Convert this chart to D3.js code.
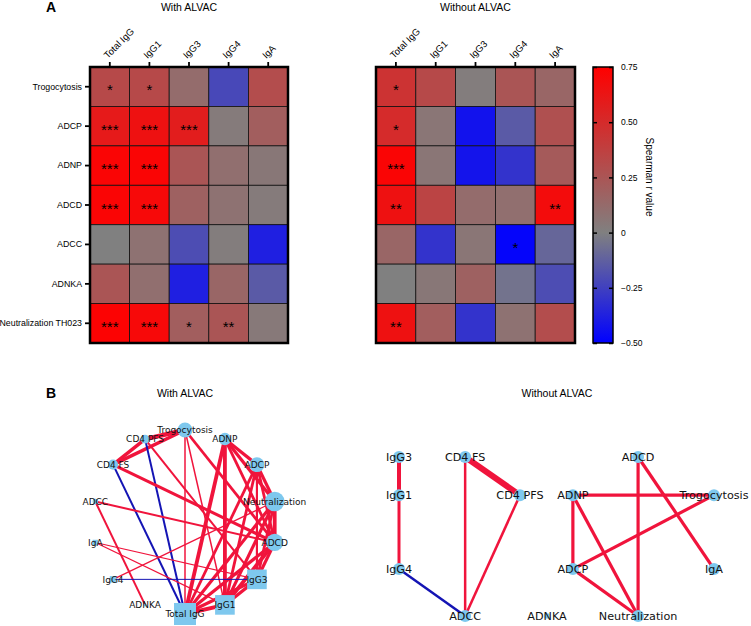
<!DOCTYPE html>
<html>
<head>
<meta charset="utf-8">
<script src="https://cdn.jsdelivr.net/npm/d3@7"></script>
<style>
  body { margin: 0; background: #fff; }
  svg { display: block; }
</style>
</head>
<body>
<div id="chart"></div>
<script>
// ---- heatmap data (panel A) ----
const antibodies = ["Total IgG", "IgG1", "IgG3", "IgG4", "IgA"];
const functions = ["Trogocytosis", "ADCP", "ADNP", "ADCD", "ADCC", "ADNKA", "Neutralization TH023"];

// Spearman r, rows = functions, cols = antibodies
const rWith = [
  [0.32, 0.32, 0.12, -0.22, 0.30],
  [0.60, 0.65, 0.58, 0.03, 0.20],
  [0.72, 0.72, 0.25, 0.10, 0.05],
  [0.72, 0.70, 0.18, 0.08, 0.03],
  [0.00, 0.08, -0.20, 0.02, -0.38],
  [0.25, 0.10, -0.38, 0.15, -0.15],
  [0.73, 0.70, 0.20, 0.25, 0.04]
];
const starsWith = [
  ["*", "*", "", "", ""],
  ["***", "***", "***", "", ""],
  ["***", "***", "", "", ""],
  ["***", "***", "", "", ""],
  ["", "", "", "", ""],
  ["", "", "", "", ""],
  ["***", "***", "*", "**", ""]
];
const rWithout = [
  [0.45, 0.32, 0.02, 0.25, 0.15],
  [0.50, 0.06, -0.43, -0.15, 0.28],
  [0.72, 0.06, -0.42, -0.30, 0.22],
  [0.65, 0.35, 0.12, 0.10, 0.68],
  [0.15, -0.30, 0.06, -0.48, -0.10],
  [0.00, 0.05, 0.18, -0.05, -0.20],
  [0.65, 0.20, -0.30, 0.08, 0.30]
];
const starsWithout = [
  ["*", "", "", "", ""],
  ["*", "", "", "", ""],
  ["***", "", "", "", ""],
  ["**", "", "", "", "**"],
  ["", "", "", "*", ""],
  ["", "", "", "", ""],
  ["**", "", "", "", ""]
];
const colorTicks = [0.75, 0.5, 0.25, 0, -0.25, -0.5];

// ---- network data (panel B) ----
const abNodes = ["Total IgG", "IgG1", "IgG3", "IgG4", "IgA"];
const ringOrder = ["Trogocytosis", "ADNP", "ADCP", "Neutralization", "ADCD", "IgG3", "IgG1",
  "Total IgG", "ADNKA", "IgG4", "IgA", "ADCC", "CD4 FS", "CD4 PFS"];
const ringDegree = [6, 5, 6, 8, 7, 8, 8, 9, 1, 2.5, 2, 2, 4, 3.5];
// [source, target, r]
const edgesWith = [
  ["Trogocytosis", "CD4 PFS", 0.85], ["Trogocytosis", "CD4 FS", 0.75], ["CD4 FS", "CD4 PFS", 0.75],
  ["CD4 PFS", "Total IgG", -0.6], ["CD4 FS", "Total IgG", -0.6],
  ["CD4 FS", "ADCD", 0.7], ["CD4 PFS", "IgG3", 0.6],
  ["Trogocytosis", "Total IgG", 0.55], ["Trogocytosis", "IgG1", 0.55], ["Trogocytosis", "ADCD", 0.68],
  ["ADNP", "ADCP", 0.72], ["ADNP", "Neutralization", 0.72], ["ADNP", "ADCD", 0.68],
  ["ADNP", "Total IgG", 0.78], ["ADNP", "IgG1", 0.78],
  ["ADCP", "Neutralization", 0.72], ["ADCP", "ADCD", 0.68], ["ADCP", "IgG3", 0.62],
  ["ADCP", "IgG1", 0.68], ["ADCP", "Total IgG", 0.68],
  ["Neutralization", "ADCD", 0.78], ["Neutralization", "IgG3", 0.68], ["Neutralization", "IgG1", 0.72],
  ["Neutralization", "Total IgG", 0.72], ["Neutralization", "IgG4", 0.52],
  ["ADCD", "IgG3", 0.72], ["ADCD", "IgG1", 0.78], ["ADCD", "Total IgG", 0.72], ["ADCD", "ADCC", 0.6],
  ["IgG3", "IgG1", 0.72], ["IgG1", "Total IgG", 0.8], ["IgG3", "Total IgG", 0.72],
  ["ADCC", "ADNKA", 0.6], ["IgA", "IgG3", 0.52], ["IgA", "IgG1", 0.52], ["IgG4", "IgG3", -0.5]
];

// manual layout of the second network, in grid units
const gridNames = ["IgG3", "IgG1", "IgG4", "CD4 FS", "CD4 PFS", "ADCC", "ADNKA",
  "ADNP", "ADCP", "ADCD", "Neutralization", "Trogocytosis", "IgA"];
const gridX = [0, 0, 0, 2.1, 3.84, 2.1, 4.7, 5.52, 5.52, 7.59, 7.59, 10, 10];
const gridY = [0, 2.4, 7.05, 0, 2.4, 10, 10, 2.4, 7.05, 0, 10, 2.4, 7.05];
const edgesWithout = [
  ["IgG3", "IgG1", 0.8], ["IgG1", "IgG4", 0.7], ["IgG4", "ADCC", -0.65],
  ["CD4 FS", "CD4 PFS", 1.0], ["CD4 FS", "ADCC", 0.65], ["CD4 PFS", "ADCC", 0.65],
  ["ADCD", "Neutralization", 0.72], ["ADCD", "IgA", 0.72],
  ["ADNP", "Trogocytosis", 0.72], ["ADNP", "ADCP", 0.72], ["ADNP", "Neutralization", 0.72],
  ["ADCP", "Trogocytosis", 0.72], ["ADCP", "Neutralization", 0.72]
];

const W = 751, H = 626;
const svg = d3.select("#chart").append("svg")
  .attr("width", W).attr("height", H)
  .style("font-family", "'Liberation Sans', Arial, sans-serif");

const color = d3.scaleLinear()
  .domain([-0.5, 0, 0.75])
  .range(["#0000ff", "#808080", "#ff0000"]);

// panel letters
svg.append("text").attr("x", 46).attr("y", 12).attr("font-size", 14).attr("font-weight", "bold").text("A");
svg.append("text").attr("x", 46).attr("y", 398).attr("font-size", 14).attr("font-weight", "bold").text("B");

const yRow = d3.scaleBand().domain(functions).range([67, 343]);

function heatmap(x0, x1, title, values, stars, rowLabels) {
  const xCol = d3.scaleBand().domain(antibodies).range([x0, x1]);
  const g = svg.append("g");

  g.append("text")
    .attr("x", (x0 + x1) / 2).attr("y", 11)
    .attr("text-anchor", "middle").attr("font-size", 10.5)
    .text(title);

  const cells = [];
  functions.forEach((f, i) => antibodies.forEach((a, j) => {
    cells.push({ f, a, v: values[i][j], s: stars[i][j] });
  }));

  g.selectAll("rect.cell").data(cells).enter().append("rect")
    .attr("class", "cell")
    .attr("x", d => xCol(d.a)).attr("y", d => yRow(d.f))
    .attr("width", xCol.bandwidth()).attr("height", yRow.bandwidth())
    .attr("fill", d => color(d.v))
    .attr("stroke", "#111").attr("stroke-width", 0.8);

  g.selectAll("text.star").data(cells.filter(d => d.s)).enter().append("text")
    .attr("class", "star")
    .attr("x", d => xCol(d.a) + xCol.bandwidth() / 2)
    .attr("y", d => yRow(d.f) + yRow.bandwidth() / 2 + 8.5)
    .attr("text-anchor", "middle").attr("font-size", 15)
    .text(d => d.s);

  g.append("rect")
    .attr("x", x0).attr("y", 67).attr("width", x1 - x0).attr("height", 276)
    .attr("fill", "none").attr("stroke", "#000").attr("stroke-width", 2.5);

  // column ticks + rotated labels
  const top = g.append("g").attr("transform", "translate(0,66)")
    .call(d3.axisTop(xCol).tickSize(4).tickSizeOuter(0).tickFormat(""));
  top.select(".domain").remove();
  top.selectAll(".tick line").attr("stroke-width", 1.8);

  g.selectAll("text.col").data(antibodies).enter().append("text")
    .attr("class", "col")
    .attr("transform", d => `translate(${xCol(d) + xCol.bandwidth() / 2 - 2},59) rotate(-45)`)
    .attr("font-size", 9.5)
    .text(d => d);

  if (rowLabels) {
    const left = g.append("g").attr("transform", `translate(${x0 - 1},0)`)
      .call(d3.axisLeft(yRow).tickSize(4).tickSizeOuter(0).tickPadding(3));
    left.select(".domain").remove();
    left.selectAll(".tick line").attr("stroke-width", 1.8);
    left.selectAll(".tick text").attr("font-size", 8.8)
      .attr("font-family", "'Liberation Sans', Arial, sans-serif").attr("fill", "#000");
  }
}

heatmap(90, 288, "With ALVAC", rWith, starsWith, true);
heatmap(376, 575, "Without ALVAC", rWithout, starsWithout, false);

// ---- colour bar ----
const cbX = 593, cbW = 20;
const yCb = d3.scaleLinear().domain([-0.5, 0.75]).range([343, 67]);
const grad = svg.append("defs").append("linearGradient")
  .attr("id", "cb").attr("x1", 0).attr("y1", 1).attr("x2", 0).attr("y2", 0);
grad.selectAll("stop").data(color.domain()).enter().append("stop")
  .attr("offset", d => (d - (-0.5)) / 1.25)
  .attr("stop-color", d => color(d));
svg.append("rect").attr("x", cbX).attr("y", 67).attr("width", cbW).attr("height", 276)
  .attr("fill", "url(#cb)").attr("stroke", "#000").attr("stroke-width", 1.5);

const cbAxis = svg.append("g").attr("transform", `translate(${cbX + cbW},0)`)
  .call(d3.axisRight(yCb).tickValues(colorTicks).tickSize(-4).tickPadding(8)
    .tickFormat(d => d === 0 ? "0" : d3.format(".2f")(d)));
cbAxis.select(".domain").remove();
cbAxis.selectAll(".tick line").attr("stroke-width", 1.5);
cbAxis.selectAll(".tick text").attr("font-size", 8.5)
  .attr("font-family", "'Liberation Sans', Arial, sans-serif");
const cbAxisL = svg.append("g").attr("transform", `translate(${cbX},0)`)
  .call(d3.axisLeft(yCb).tickValues(colorTicks).tickSize(-4).tickFormat(""));
cbAxisL.select(".domain").remove();
cbAxisL.selectAll(".tick line").attr("stroke-width", 1.5);

svg.append("text")
  .attr("transform", "translate(646,177) rotate(90)")
  .attr("text-anchor", "middle").attr("font-size", 10)
  .text("Spearman r value");

// ---- networks ----
const widthScale = d3.scaleLinear().domain([0.5, 1.0]).range([1, 6]);
const edgeColor = r => r < 0 ? "#1414b4" : "#f0143c";
const nodeFill = "#7ec8ee";

function network(pos, edges, title, titleX, fontSize, sizeOf) {
  const g = svg.append("g").style("font-family", "'DejaVu Sans', Verdana, sans-serif");
  svg.append("text").attr("x", titleX).attr("y", 397)
    .attr("text-anchor", "middle").attr("font-size", 10.5).text(title);

  g.selectAll("line").data(edges).enter().append("line")
    .attr("x1", d => pos[d[0]][0]).attr("y1", d => pos[d[0]][1])
    .attr("x2", d => pos[d[1]][0]).attr("y2", d => pos[d[1]][1])
    .attr("stroke", d => edgeColor(d[2]))
    .attr("stroke-width", d => widthScale(Math.abs(d[2])));

  const names = Object.keys(pos);
  names.forEach(n => {
    const s = sizeOf(n);
    const [x, y] = pos[n];
    if (s.square) {
      g.append("rect").attr("x", x - s.d / 2).attr("y", y - s.d / 2)
        .attr("width", s.d).attr("height", s.d).attr("fill", nodeFill);
    } else {
      g.append("circle").attr("cx", x).attr("cy", y).attr("r", s.d / 2).attr("fill", nodeFill);
    }
  });
  g.selectAll("text").data(names).enter().append("text")
    .attr("x", n => pos[n][0]).attr("y", n => pos[n][1])
    .attr("dy", "0.36em")
    .attr("text-anchor", "middle").attr("font-size", fontSize).attr("fill", "#111")
    .text(n => n);
}

// left: circle layout, node size by degree
const angle = d3.scaleLinear().domain([0, ringOrder.length]).range([0, 2 * Math.PI]);
const ringCx = 185, ringCy = 522, ringR = 92;
const posWith = {};
ringOrder.forEach((n, i) => {
  posWith[n] = [ringCx + ringR * Math.sin(angle(i)), ringCy - ringR * Math.cos(angle(i))];
});
const sizeScale = d3.scaleLinear().domain([1, 9]).range([3, 22]);
network(posWith, edgesWith, "With ALVAC", 185, 9,
  n => ({ d: sizeScale(ringDegree[ringOrder.indexOf(n)]), square: abNodes.includes(n) }));

// right: manual grid layout
const gx = d3.scaleLinear().domain([0, 10]).range([399, 714]);
const gy = d3.scaleLinear().domain([0, 10]).range([457, 616]);
const posWithout = {};
gridNames.forEach((n, i) => { posWithout[n] = [gx(gridX[i]), gy(gridY[i])]; });
const degWithout = {};
edgesWithout.forEach(e => { degWithout[e[0]] = 1; degWithout[e[1]] = 1; });
network(posWithout, edgesWithout, "Without ALVAC", 557, 11.2,
  n => ({ d: degWithout[n] ? 12 : 5, square: !degWithout[n] }));
</script>
</body>
</html>
